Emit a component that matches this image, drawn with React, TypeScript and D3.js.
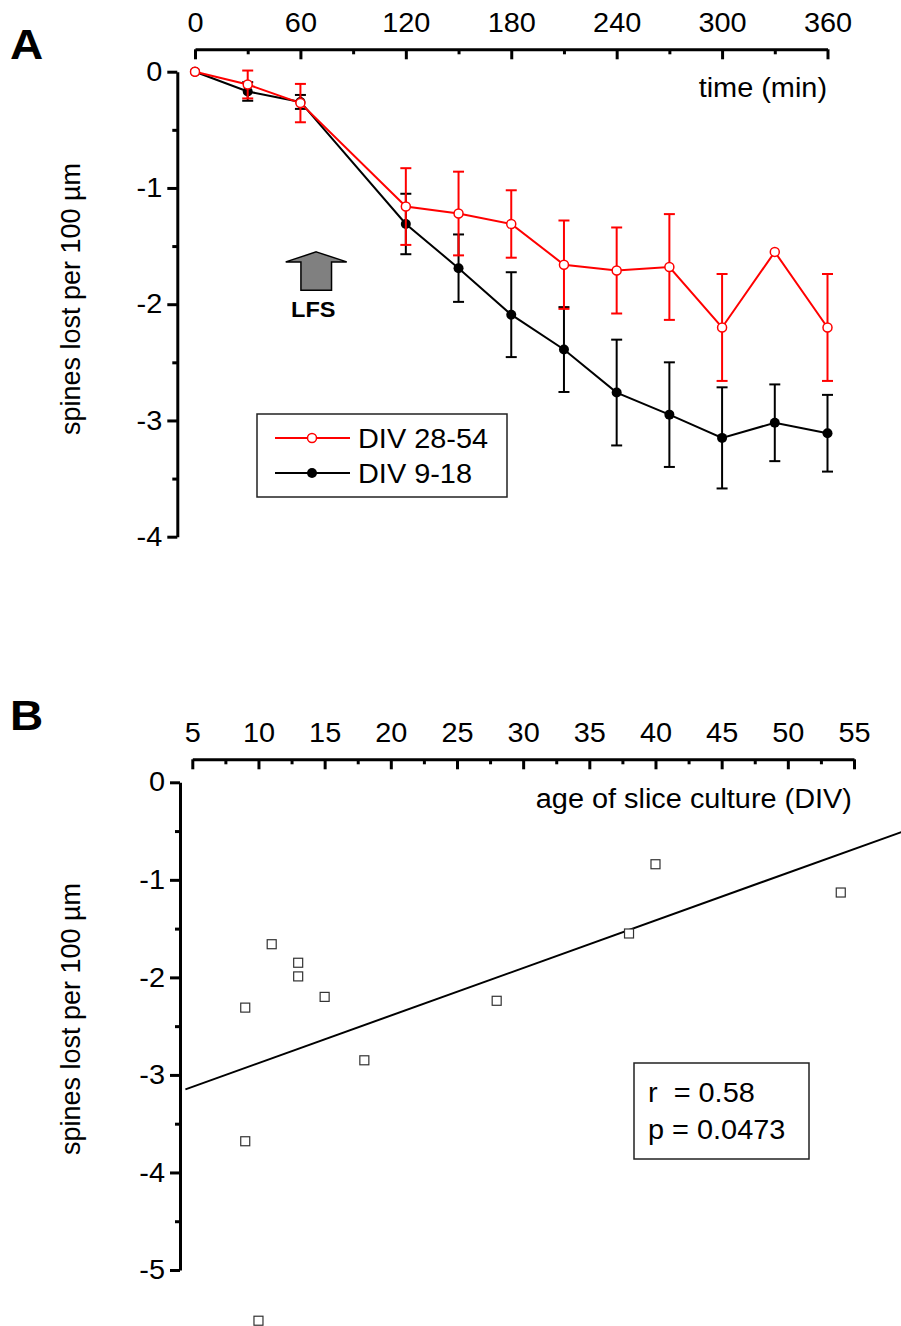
import * as d3 from "d3";
import React, { useEffect, useRef } from "react";

// Panel A: spine loss after LFS, two culture ages
const times = [0, 30, 60, 120, 150, 180, 210, 240, 270, 300, 330, 360];
const oldMean = [0, -0.11, -0.27, -1.16, -1.22, -1.31, -1.66, -1.71, -1.68, -2.2, -1.55, -2.2];
const oldErr = [0, 0.12, 0.165, 0.33, 0.36, 0.29, 0.38, 0.37, 0.455, 0.46, 0, 0.46];
const youngMean = [0, -0.17, -0.26, -1.31, -1.69, -2.09, -2.39, -2.76, -2.95, -3.15, -3.02, -3.11];
const youngErr = [0, 0.08, 0.06, 0.26, 0.29, 0.365, 0.365, 0.455, 0.45, 0.435, 0.33, 0.33];
const timeTicks = [0, 60, 120, 180, 240, 300, 360];
const timeMinor = [30, 90, 150, 210, 270, 330];
const lossTicksA = [0, -1, -2, -3, -4];
const lossMinorA = [-0.5, -1.5, -2.5, -3.5];
const legendLabels = ["DIV 28-54", "DIV 9-18"];
const lfsTime = 69;
const lfsTop = -1.55;
const lfsBottom = -1.88;

// Panel B: spine loss vs age of slice culture
const ageDiv = [9, 9, 10, 11, 13, 13, 15, 18, 28, 38, 40, 54];
const spinesLost = [-2.31, -3.68, -5.52, -1.66, -1.85, -1.99, -2.2, -2.85, -2.24, -1.55, -0.84, -1.13];
const ageTicks = [5, 10, 15, 20, 25, 30, 35, 40, 45, 50, 55];
const ageMinor = [7.5, 12.5, 17.5, 22.5, 27.5, 32.5, 37.5, 42.5, 47.5, 52.5];
const lossTicksB = [0, -1, -2, -3, -4, -5];
const lossMinorB = [-0.5, -1.5, -2.5, -3.5, -4.5];
const statsLines = ["r  = 0.58", "p = 0.0473"];

const FONT = "'Liberation Sans', Arial, Helvetica, sans-serif";
const FS = 27;
const STRETCH = 1.07; // lettering in the figure is a bit wide

const stretchText = sel =>
  sel.each(function () {
    const t = d3.select(this);
    const x = +(t.attr("x") || 0);
    t.attr("x", x / STRETCH).attr("transform", `scale(${STRETCH},1)`);
  });

const addText = (g, x, y, str, anchor = "start", size = FS, weight = "normal") =>
  g.append("text")
    .attr("transform", `translate(${x},${y}) scale(${STRETCH},1)`)
    .attr("text-anchor", anchor)
    .attr("font-family", FONT)
    .attr("font-size", size)
    .attr("font-weight", weight)
    .style("white-space", "pre")
    .text(str);

const styleAxis = a => {
  a.attr("font-size", FS).attr("font-family", FONT);
  a.selectAll("line").attr("stroke-width", 3);
  a.select(".domain").attr("stroke-width", 3);
};

function topAxis(svg, scale, major, minor, y) {
  const g = svg.append("g").attr("transform", `translate(0,${y})`);
  const mn = g.append("g")
    .call(d3.axisTop(scale).tickValues(minor).tickSizeInner(-5).tickSizeOuter(0).tickFormat(() => ""));
  mn.select(".domain").remove();
  styleAxis(mn);
  const mj = g.append("g")
    .call(d3.axisTop(scale).tickValues(major).tickSizeInner(-10).tickSizeOuter(0)
      .tickPadding(17).tickFormat(d => String(d)));
  styleAxis(mj);
  mj.selectAll("text").call(stretchText);
}

function leftAxis(svg, scale, major, minor, x) {
  const g = svg.append("g").attr("transform", `translate(${x},0)`);
  const mn = g.append("g")
    .call(d3.axisLeft(scale).tickValues(minor).tickSize(5).tickSizeOuter(0).tickFormat(() => ""));
  mn.select(".domain").remove();
  styleAxis(mn);
  const mj = g.append("g")
    .call(d3.axisLeft(scale).tickValues(major).tickSize(10).tickSizeOuter(0)
      .tickPadding(5).tickFormat(d => String(d)));
  styleAxis(mj);
  mj.selectAll("text").call(stretchText);
}

function yTitle(svg, x, y) {
  svg.append("text")
    .attr("transform", `translate(${x},${y}) rotate(-90)`)
    .attr("text-anchor", "middle")
    .attr("font-family", FONT)
    .attr("font-size", FS)
    .text("spines lost per 100 µm");
}

function drawTimeCourse(svg) {
  const x = d3.scaleLinear().domain([0, 360]).range([195, 827.5]);
  const y = d3.scaleLinear().domain([0, -4]).range([71.7, 536.7]);

  addText(svg, 10, 59, "A", "start", 43, "bold");
  topAxis(svg, x, timeTicks, timeMinor, 49.3);
  leftAxis(svg, y, lossTicksA, lossMinorA, 177.3);
  yTitle(svg, 80, 299);
  addText(svg, 827, 97, "time (min)", "end");

  // LFS arrow
  const cx = x(lfsTime), tip = y(lfsTop), base = y(lfsBottom);
  const arrow = [
    [cx, tip], [cx + 30.5, tip + 10], [cx + 15.3, tip + 10], [cx + 15.3, base],
    [cx - 15.3, base], [cx - 15.3, tip + 10], [cx - 30.5, tip + 10]
  ];
  svg.append("path")
    .attr("d", d3.line()(arrow) + "Z")
    .attr("fill", "#808080")
    .attr("stroke", "#000")
    .attr("stroke-width", 1.5);
  addText(svg, cx - 3, base + 26.5, "LFS", "middle", 22, "bold");

  const line = d3.line().x(d => x(d.t)).y(d => y(d.v));
  const series = [
    { mean: youngMean, err: youngErr, color: "#000000", filled: true },
    { mean: oldMean, err: oldErr, color: "#ff0000", filled: false }
  ];

  series.forEach(s => {
    const pts = times.map((t, i) => ({ t, v: s.mean[i], e: s.err[i] }));
    svg.append("path")
      .attr("d", line(pts))
      .attr("fill", "none")
      .attr("stroke", s.color)
      .attr("stroke-width", 2);

    const bars = svg.append("g").attr("stroke", s.color).attr("stroke-width", 2);
    pts.filter(p => p.e > 0).forEach(p => {
      const px = x(p.t);
      bars.append("line").attr("x1", px).attr("x2", px)
        .attr("y1", y(p.v + p.e)).attr("y2", y(p.v - p.e));
      [p.v + p.e, p.v - p.e].forEach(v => {
        bars.append("line").attr("x1", px - 5.5).attr("x2", px + 5.5)
          .attr("y1", y(v)).attr("y2", y(v));
      });
    });

    svg.append("g").selectAll("circle")
      .data(pts)
      .join("circle")
      .attr("cx", d => x(d.t))
      .attr("cy", d => y(d.v))
      .attr("r", s.filled ? 5 : 4.5)
      .attr("fill", s.filled ? s.color : "#fff")
      .attr("stroke", s.color)
      .attr("stroke-width", s.filled ? 0 : 1.5);
  });

  // legend
  const lg = svg.append("g");
  lg.append("rect")
    .attr("x", 257).attr("y", 414).attr("width", 250).attr("height", 83)
    .attr("fill", "none").attr("stroke", "#222").attr("stroke-width", 1.5);
  [series[1], series[0]].forEach((s, i) => {
    const ly = 438 + i * 35;
    lg.append("line").attr("x1", 275).attr("x2", 350).attr("y1", ly).attr("y2", ly)
      .attr("stroke", s.color).attr("stroke-width", 2);
    lg.append("circle").attr("cx", 312).attr("cy", ly)
      .attr("r", s.filled ? 5 : 4.5)
      .attr("fill", s.filled ? s.color : "#fff")
      .attr("stroke", s.color)
      .attr("stroke-width", s.filled ? 0 : 1.5);
    addText(lg, 358, ly + 9.5, legendLabels[i]);
  });
}

function drawAgeScatter(svg) {
  const x = d3.scaleLinear().domain([5, 55]).range([192.3, 854]);
  const y = d3.scaleLinear().domain([0, -5]).range([782.3, 1270]);

  addText(svg, 10, 730, "B", "start", 43, "bold");
  topAxis(svg, x, ageTicks, ageMinor, 759.3);
  leftAxis(svg, y, lossTicksB, lossMinorB, 180);
  yTitle(svg, 80, 1019);
  addText(svg, 852, 808, "age of slice culture (DIV)", "end");

  // least squares fit
  const mx = d3.mean(ageDiv), my = d3.mean(spinesLost);
  const sxy = d3.sum(ageDiv, (a, i) => (a - mx) * (spinesLost[i] - my));
  const sxx = d3.sum(ageDiv, a => (a - mx) * (a - mx));
  const slope = sxy / sxx;
  const icpt = my - slope * mx;
  const fitX = [4.48, 62];
  svg.append("path")
    .attr("d", d3.line()(fitX.map(a => [x(a), y(icpt + slope * a)])))
    .attr("stroke", "#000")
    .attr("stroke-width", 2)
    .attr("fill", "none");

  svg.append("g").selectAll("rect")
    .data(ageDiv.map((a, i) => ({ a, v: spinesLost[i] })))
    .join("rect")
    .attr("x", d => x(d.a) - 4.5)
    .attr("y", d => y(d.v) - 4.5)
    .attr("width", 9)
    .attr("height", 9)
    .attr("fill", "#fff")
    .attr("stroke", "#333")
    .attr("stroke-width", 1.2);

  const box = svg.append("g");
  box.append("rect")
    .attr("x", 634).attr("y", 1063).attr("width", 175).attr("height", 96)
    .attr("fill", "#fff").attr("stroke", "#222").attr("stroke-width", 1.5);
  statsLines.forEach((s, i) => addText(box, 648, 1102 + i * 37, s));
}

export default function App() {
  const ref = useRef(null);

  useEffect(() => {
    const svg = d3.select(ref.current);
    svg.selectAll("*").remove();
    drawTimeCourse(svg);
    drawAgeScatter(svg);
  }, []);

  return (
    <svg
      ref={ref}
      width={901}
      height={1326}
      style={{ position: "absolute", left: 0, top: 0, background: "#fff" }}
    />
  );
}
